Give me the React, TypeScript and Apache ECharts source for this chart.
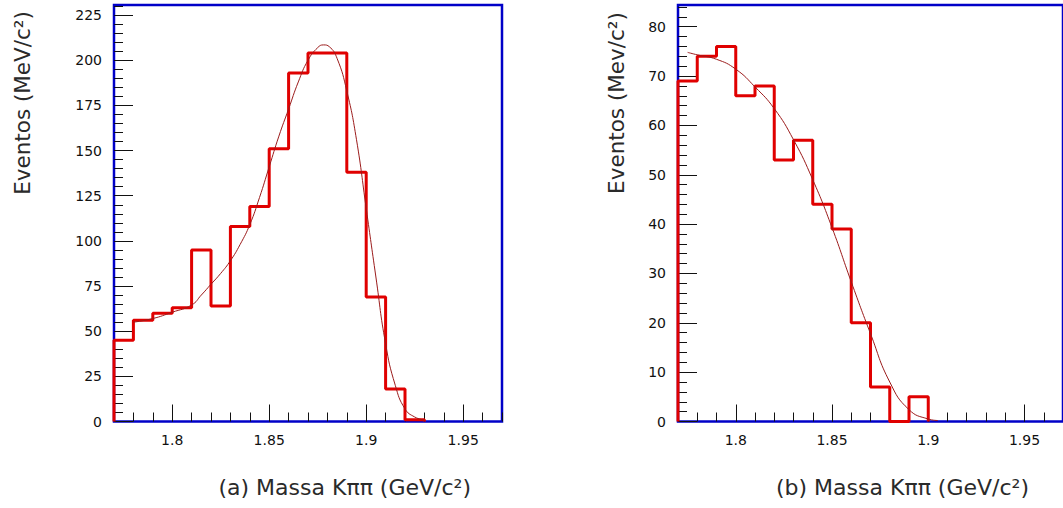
import React, { useEffect, useRef } from "react";
import * as echarts from "echarts";

// Histogram binning (GeV/c^2)
const binStart = 1.77;
const binWidth = 0.01;

// (a) event counts per bin
const countsA = [45, 56, 60, 63, 95, 64, 108, 119, 151, 193, 204, 204, 138, 69, 18, 1];
// (b) event counts per bin
const countsB = [69, 74, 76, 66, 68, 53, 57, 44, 39, 20, 7, 0, 5];

// fitted curve of (a)
const fitAx = [1.78, 1.79, 1.8, 1.81, 1.815, 1.82, 1.825, 1.83, 1.835, 1.84, 1.845, 1.85, 1.855, 1.86, 1.865, 1.87, 1.875, 1.878, 1.881, 1.885, 1.89, 1.895, 1.9, 1.905, 1.91, 1.915, 1.92, 1.925, 1.93];
const fitAy = [55, 57, 60.5, 64.5, 70, 76, 82, 89, 98, 109, 124, 141, 158, 173, 188, 200, 207, 208.5, 207.5, 201, 183, 156, 118, 80, 43, 20, 7, 2.5, 0.8];

// fitted curve of (b)
const fitBx = [1.775, 1.78, 1.79, 1.8, 1.81, 1.82, 1.83, 1.84, 1.85, 1.86, 1.87, 1.88, 1.89, 1.9, 1.905];
const fitBy = [74.8, 74.3, 73.4, 71.4, 67.8, 63.4, 57.1, 49, 39.3, 28.3, 17.8, 8, 2.4, 0.5, 0.2];

// axis ranges
const xMin = 1.77;
const xMax = 1.97;
const yMaxA = 230.6;
const yMaxB = 84.4;

// tick positions
const xMajorTicks = [1.8, 1.85, 1.9, 1.95];
const xMinorStep = 0.01;
const yMajorTicksA = [0, 25, 50, 75, 100, 125, 150, 175, 200, 225];
const yMinorStepA = 5;
const yMajorTicksB = [0, 10, 20, 30, 40, 50, 60, 70, 80];
const yMinorStepB = 2;

// titles
const yTitleA = "Eventos (MeV/c²)";
const yTitleB = "Eventos (Mev/c²)";
const xTitleA = "(a) Massa Kππ (GeV/c²)";
const xTitleB = "(b) Massa Kππ (GeV/c²)";

const FONT = "DejaVu Sans";
const FRAME = "#0000c8";
const HIST = "#e00000";
const FIT = "#9b1b1b";
const TITLE = "#2a2a2a";

function ticksBetween(min: number, max: number, step: number): number[] {
  const out: number[] = [];
  const n = Math.round((max - min) / step);
  for (let i = 0; i <= n; i++) out.push(+(min + i * step).toFixed(6));
  return out;
}

function histPoints(counts: number[]): number[][] {
  const pts: number[][] = [[binStart, 0]];
  counts.forEach((c, i) => pts.push([+(binStart + i * binWidth).toFixed(4), c]));
  pts.push([+(binStart + counts.length * binWidth).toFixed(4), 0]);
  return pts;
}

function zip(xs: number[], ys: number[]): number[][] {
  return xs.map((x, i) => [x, ys[i]]);
}

const xMinorTicks = ticksBetween(xMin, xMax, xMinorStep);

function xAxes(gridIndex: number) {
  const base = {
    type: "value" as const,
    gridIndex,
    min: xMin,
    max: xMax,
    position: "bottom" as const,
    offset: 0,
    axisLine: { show: false },
    splitLine: { show: false },
  };
  return [
    {
      ...base,
      axisTick: {
        show: true,
        inside: true,
        length: 17,
        customValues: xMajorTicks,
        lineStyle: { color: "#111", width: 1 },
      },
      axisLabel: {
        show: true,
        customValues: xMajorTicks,
        margin: 11,
        color: "#111",
        fontFamily: FONT,
        fontSize: 14,
      },
    },
    {
      ...base,
      axisTick: {
        show: true,
        inside: true,
        length: 9,
        customValues: xMinorTicks,
        lineStyle: { color: "#111", width: 1 },
      },
      axisLabel: { show: false },
    },
  ];
}

function yAxes(gridIndex: number, max: number, major: number[], minorStep: number) {
  const base = {
    type: "value" as const,
    gridIndex,
    min: 0,
    max,
    position: "left" as const,
    offset: 0,
    axisLine: { show: false },
    splitLine: { show: false },
  };
  return [
    {
      ...base,
      axisTick: {
        show: true,
        inside: true,
        length: 19,
        customValues: major,
        lineStyle: { color: "#111", width: 1 },
      },
      axisLabel: {
        show: true,
        customValues: major,
        margin: 12,
        color: "#111",
        fontFamily: FONT,
        fontSize: 14,
      },
    },
    {
      ...base,
      axisTick: {
        show: true,
        inside: true,
        length: 9,
        customValues: ticksBetween(0, Math.floor(max / minorStep) * minorStep, minorStep),
        lineStyle: { color: "#111", width: 1 },
      },
      axisLabel: { show: false },
    },
  ];
}

function histSeries(axisIndex: number, counts: number[]) {
  return {
    type: "line" as const,
    xAxisIndex: axisIndex,
    yAxisIndex: axisIndex,
    data: histPoints(counts),
    step: "end" as const,
    symbol: "none",
    clip: false,
    lineStyle: { color: HIST, width: 3 },
    z: 3,
  };
}

function fitSeries(axisIndex: number, xs: number[], ys: number[]) {
  return {
    type: "line" as const,
    xAxisIndex: axisIndex,
    yAxisIndex: axisIndex,
    data: zip(xs, ys),
    smooth: 0.5,
    symbol: "none",
    lineStyle: { color: FIT, width: 1 },
    z: 4,
  };
}

function titleText(text: string, x: number, y: number, vertical: boolean) {
  return {
    type: "text" as const,
    x,
    y,
    rotation: vertical ? Math.PI / 2 : 0,
    style: {
      text,
      fontFamily: FONT,
      fontSize: vertical ? 21.5 : 22,
      fill: TITLE,
      align: vertical ? ("center" as const) : ("right" as const),
      verticalAlign: "middle" as const,
    },
  };
}

export default function App() {
  const ref = useRef<HTMLDivElement>(null);

  useEffect(() => {
    if (!ref.current) return;
    const chart = echarts.init(ref.current, null, { renderer: "svg" });
    const gridStyle = {
      show: true,
      borderColor: FRAME,
      borderWidth: 2.5,
      backgroundColor: "transparent",
      containLabel: false,
    };
    chart.setOption({
      animation: false,
      backgroundColor: "#ffffff",
      grid: [
        { ...gridStyle, left: 114, top: 5, width: 388, height: 416.5 },
        { ...gridStyle, left: 678, top: 5, width: 388, height: 416.5 },
      ],
      xAxis: [...xAxes(0), ...xAxes(1)],
      yAxis: [
        ...yAxes(0, yMaxA, yMajorTicksA, yMinorStepA),
        ...yAxes(1, yMaxB, yMajorTicksB, yMinorStepB),
      ],
      series: [
        histSeries(0, countsA),
        fitSeries(0, fitAx, fitAy),
        histSeries(2, countsB),
        fitSeries(2, fitBx, fitBy),
      ],
      graphic: [
        titleText(yTitleA, 22, 103, true),
        titleText(yTitleB, 616, 103, true),
        titleText(xTitleA, 471, 487, false),
        titleText(xTitleB, 1029, 487, false),
      ],
    });
    return () => chart.dispose();
  }, []);

  return (
    <div
      ref={ref}
      style={{ position: "absolute", left: 0, top: 0, width: 1063, height: 508, background: "#fff" }}
    />
  );
}
